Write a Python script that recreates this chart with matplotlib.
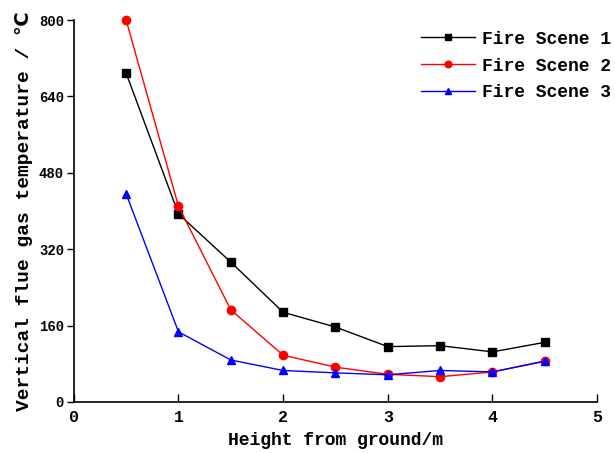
import matplotlib
matplotlib.use("Agg")
import matplotlib.pyplot as plt

heights = [0.5, 1.0, 1.5, 2.0, 2.5, 3.0, 3.5, 4.0, 4.5]
scene1 = [689, 394, 293, 188, 157, 116, 118, 105, 125]
scene2 = [800, 410, 193, 98, 73, 58, 53, 63, 85]
scene3 = [436, 147, 88, 66, 61, 57, 66, 63, 86]
labels = ["Fire Scene 1", "Fire Scene 2", "Fire Scene 3"]
xticks = [0, 1, 2, 3, 4, 5]
yticks = [0, 160, 320, 480, 640, 800]

fam = ["Liberation Mono", "DejaVu Sans"]
plt.rcParams['font.family'] = fam

fig = plt.figure(figsize=(6.15, 4.53), dpi=100)
ax = fig.add_axes([0.120, 0.1126, 0.851, 0.843])

ax.plot(heights, scene1, color="black", marker="s", markersize=6, lw=1, label=labels[0], clip_on=False)
ax.plot(heights, scene2, color="red", marker="o", markersize=6, lw=1, label=labels[1], clip_on=False)
ax.plot(heights, scene3, color="blue", marker="^", markersize=6, lw=1, label=labels[2], clip_on=False)

ax.set_xlim(0, 5)
ax.set_ylim(0, 800)
ax.set_xticks(xticks)
ax.set_yticks(yticks)
ax.spines['top'].set_visible(False)
ax.spines['right'].set_visible(False)
ax.spines['left'].set_linewidth(1.2)
ax.spines['bottom'].set_linewidth(1.2)
ax.tick_params(axis='x', direction='in', length=6, width=1, labelsize=12, pad=6)
ax.tick_params(axis='y', direction='out', length=5, width=1, labelsize=10, pad=2)
for t in ax.get_xticklabels() + ax.get_yticklabels():
    t.set_fontweight('bold')

ax.set_xlabel("Height from ground/m", fontsize=13, fontweight='bold', labelpad=5)
ax.set_ylabel("Vertical flue gas temperature / ℃", fontsize=14, fontweight='bold', labelpad=4)

leg = ax.legend(loc='upper right', bbox_to_anchor=(1.058, 1.015), frameon=False,
                prop={'family': fam, 'weight': 'bold', 'size': 13},
                handlelength=3.0, handletextpad=0.4, labelspacing=0.55, markerscale=0.8)

fig.savefig("out.png", dpi=100)
